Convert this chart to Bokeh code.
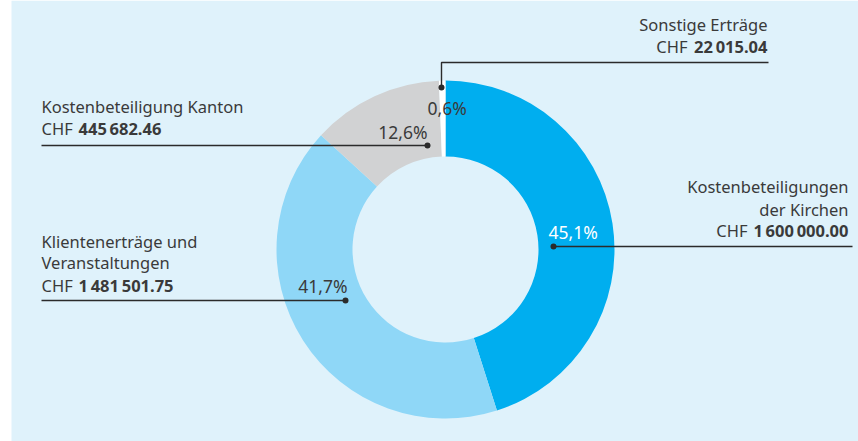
import math
from bokeh.plotting import figure
from bokeh.models import Range1d
from bokeh.core.properties import value
from bokeh.embed import file_html
from bokeh.resources import INLINE

# ---------------- data ----------------
categories = ["Kostenbeteiligungen der Kirchen", "Klientenerträge und Veranstaltungen",
              "Kostenbeteiligung Kanton", "Sonstige Erträge"]
label_lines = [["Kostenbeteiligungen", "der Kirchen"],
               ["Klientenerträge und", "Veranstaltungen"],
               ["Kostenbeteiligung Kanton"],
               ["Sonstige Erträge"]]
amounts = [1600000.00, 1481501.75, 445682.46, 22015.04]
colors = ["#00aeef", "#8fd7f7", "#d1d2d3", "#ffffff"]
pct_colors = ["#ffffff", "#3a3a3a", "#3a3a3a", "#3a3a3a"]

# ---------------- layout (screen px, y down) ----------------
W, H = 858, 441
CX, CY = 445, 249
R_OUT, R_IN = 169, 93
FONT = value("Noto Sans")
FS = "16.5px"
TXT = "#3a3a3a"
BASE_SHIFT = 6   # compensate renderer baseline offset

def Y(py):
    return H - py

def YT(py):
    return H - (py - BASE_SHIFT)

# per category annotation layout
lay = [
    dict(dot=(553, 246), path=[(553, 246), (852, 246)], align="right", tx=848,
         base=[192, 215, 236], num_x=848, chf_x=747, pct=(548, 237, "left")),
    dict(dot=(345, 300), path=[(41, 300), (345, 300)], align="left", tx=41,
         base=[247, 268, 291], num_x=78, chf_x=41, pct=(347, 291, "right")),
    dict(dot=(427, 145), path=[(41, 145), (427, 145)], align="left", tx=41,
         base=[112, 134], num_x=78, chf_x=41, pct=(427, 137, "right")),
    dict(dot=(441, 87), path=[(441, 87), (441, 62), (768, 62)], align="right", tx=767,
         base=[30, 52], num_x=767, chf_x=687, pct=(427, 113, "left")),
]

p = figure(width=W, height=H, output_backend="svg", toolbar_location=None,
           x_range=Range1d(0, W), y_range=Range1d(0, H), min_border=0)
p.axis.visible = False
p.grid.visible = False
p.outline_line_color = None
p.background_fill_color = "#ffffff"
p.border_fill_color = "#ffffff"

# light-blue panel
p.quad(left=[11], right=[W], bottom=[0], top=[H],
       fill_color="#dff2fb", line_color=None)

total = sum(amounts)
fracs = [a / total for a in amounts]
cum = 0.0
starts, ends = [], []
for f in fracs:
    a0 = math.pi / 2 - 2 * math.pi * cum
    a1 = math.pi / 2 - 2 * math.pi * (cum + f)
    starts.append(a1)
    ends.append(a0)
    cum += f

p.annular_wedge(x=[CX] * 4, y=[Y(CY)] * 4, inner_radius=R_IN, outer_radius=R_OUT,
                start_angle=starts, end_angle=ends, fill_color=colors,
                line_color=None, inner_radius_units="data", outer_radius_units="data")

def fmt_chf(v):
    s = f"{v:,.2f}"
    return s.replace(",", "\u2009")

def fmt_pct(f):
    return f"{f * 100:.1f}".replace(".", ",") + "%"

for i, L in enumerate(lay):
    xs = [pt[0] for pt in L["path"]]
    ys = [Y(pt[1]) for pt in L["path"]]
    p.line(xs, ys, line_color="#2b2b2b", line_width=1.4)
    p.scatter([L["dot"][0]], [Y(L["dot"][1])], size=6, fill_color="#2b2b2b",
              line_color=None)
    lines = label_lines[i]
    for j, t in enumerate(lines):
        p.text([L["tx"]], [YT(L["base"][j])], text=[t], text_align=L["align"],
               text_baseline="alphabetic", text_font=FONT, text_font_size=FS,
               text_color=TXT)
    by = YT(L["base"][len(lines)])
    p.text([L["chf_x"]], [by], text=["CHF"], text_align=L["align"],
           text_baseline="alphabetic", text_font=FONT, text_font_size=FS, text_color=TXT)
    p.text([L["num_x"]], [by], text=[fmt_chf(amounts[i])], text_align=L["align"],
           text_baseline="alphabetic", text_font=FONT, text_font_size=FS,
           text_font_style="bold", text_color=TXT)
    px_, py_, pal = L["pct"]
    p.text([px_], [YT(py_)], text=[fmt_pct(fracs[i])], text_align=pal,
           text_baseline="alphabetic", text_font=FONT, text_font_size="17.5px",
           text_color=pct_colors[i])

open("out.html", "w").write(file_html(p, INLINE))
